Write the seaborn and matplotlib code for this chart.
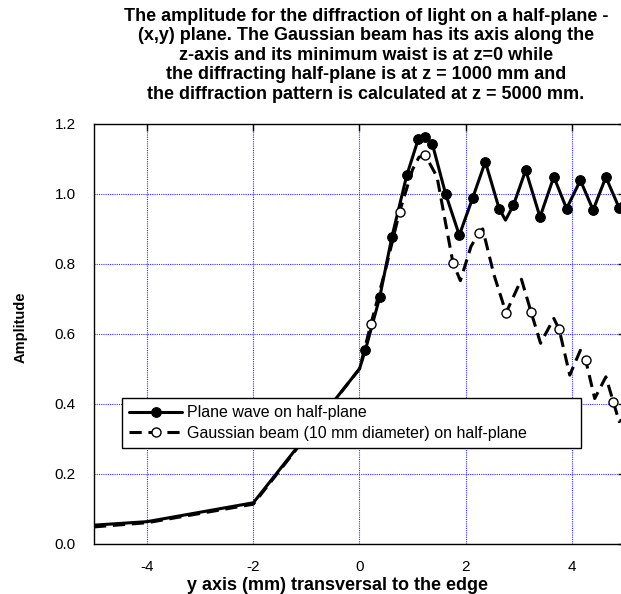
import numpy as np
import pandas as pd
import matplotlib
matplotlib.use("Agg")
import matplotlib.pyplot as plt
import seaborn as sns

# values
plane_y_mm = [-5, -4, -2, 0, 0.11, 0.38, 0.61, 0.89, 1.11, 1.24, 1.37, 1.62, 1.88, 2.13,
              2.37, 2.63, 2.75, 2.90, 3.13, 3.40, 3.66, 3.90, 4.16, 4.40, 4.64, 4.89, 5.0]
plane_amp = [0.053, 0.063, 0.117, 0.50, 0.553, 0.704, 0.877, 1.053, 1.158, 1.163, 1.144, 1.001,
             0.882, 0.988, 1.092, 0.958, 0.925, 0.968, 1.068, 0.934, 1.049, 0.958, 1.039, 0.954,
             1.048, 0.960, 0.99]
plane_marks = [4, 5, 6, 7, 8, 9, 10, 11, 12, 13, 14, 15, 17, 18, 19, 20, 21, 22, 23, 24, 25]

gauss_y_mm = [-5, -4, -2, 0, 0.215, 0.50, 0.755, 1.00, 1.12, 1.24, 1.46, 1.76, 1.90, 2.10,
              2.25, 2.32, 2.53, 2.76, 3.05, 3.23, 3.41, 3.66, 3.76, 3.96, 4.16, 4.26, 4.43,
              4.64, 4.78, 4.89, 5.0]
gauss_amp = [0.048, 0.060, 0.113, 0.50, 0.628, 0.79, 0.949, 1.07, 1.105, 1.11, 1.049, 0.803,
             0.752, 0.85, 0.889, 0.90, 0.77, 0.66, 0.756, 0.663, 0.573, 0.644, 0.613, 0.482,
             0.553, 0.525, 0.415, 0.477, 0.406, 0.349, 0.36]
gauss_marks = [4, 6, 9, 11, 14, 17, 19, 22, 25, 28]

x_ticks = [-4, -2, 0, 2, 4]
y_ticks = [0.0, 0.2, 0.4, 0.6, 0.8, 1.0, 1.2]

title = ("The amplitude for the diffraction of light on a half-plane -\n"
         "(x,y) plane. The Gaussian beam has its axis along the\n"
         "z-axis and its minimum waist is at z=0 while\n"
         "the diffracting half-plane is at z = 1000 mm and\n"
         "the diffraction pattern is calculated at z = 5000 mm.")

sns.set_style("white")
plt.rcParams['font.family'] = ['Liberation Sans', 'DejaVu Sans']
plt.rcParams['text.color'] = 'black'
plt.rcParams['axes.labelcolor'] = 'black'
plt.rcParams['axes.unicode_minus'] = False

df_plane = pd.DataFrame({"y": plane_y_mm, "amp": plane_amp})
df_gauss = pd.DataFrame({"y": gauss_y_mm, "amp": gauss_amp})

fig = plt.figure(figsize=(6.21, 5.94), dpi=100)
ax = fig.add_axes([0.1514, 0.0847, 0.855, 0.7066])

sns.lineplot(data=df_plane, x="y", y="amp", ax=ax, color="black", lw=2.2,
             marker="o", markersize=7, markerfacecolor="black", markeredgecolor="black",
             markevery=plane_marks, label="Plane wave on half-plane", legend=False)
sns.lineplot(data=df_gauss, x="y", y="amp", ax=ax, color="black", lw=2.2,
             marker="o", markersize=6.5, markerfacecolor="white", markeredgecolor="black",
             markeredgewidth=1.0, markevery=gauss_marks,
             label="Gaussian beam (10 mm diameter) on half-plane", legend=False)
ax.lines[1].set_linestyle((0, (4.0, 2.2)))

ax.set_xlim(-5, 5)
ax.set_ylim(0, 1.2)
ax.set_xticks(x_ticks)
ax.set_yticks(y_ticks)
ax.set_yticklabels([f"{v:.1f}" for v in y_ticks])
ax.tick_params(direction="in", length=5, width=1, top=True, right=True,
               labelsize=11, colors="black")
ax.tick_params(axis="x", pad=12)
ax.tick_params(axis="y", pad=13)
ax.grid(True, color="#3030ff", linestyle=(0, (1, 1)), linewidth=0.8)
for s in ax.spines.values():
    s.set_color("black")
    s.set_linewidth(1.0)

ax.set_xlabel("y axis (mm) transversal to the edge", fontsize=13, fontweight="bold")
ax.xaxis.set_label_coords(0.458, -0.08)
ax.set_ylabel("Amplitude", fontsize=10.5, fontweight="bold")
ax.yaxis.set_label_coords(-0.125, 0.516)

fig.text(366 / 621, 1 - 8 / 594, title, ha="center", va="top", fontsize=13,
         fontweight="bold", linespacing=1.19)

leg = ax.legend(loc="lower left", bbox_to_anchor=(0.053, 0.228, 0.865, 0.121), mode="expand",
                borderaxespad=0, fancybox=False, edgecolor="black", framealpha=1,
                fontsize=11.5, handlelength=3.3, handletextpad=0.3, labelspacing=0.35,
                borderpad=0.45)
leg.get_frame().set_linewidth(1.0)

fig.savefig("out.png", dpi=100)
